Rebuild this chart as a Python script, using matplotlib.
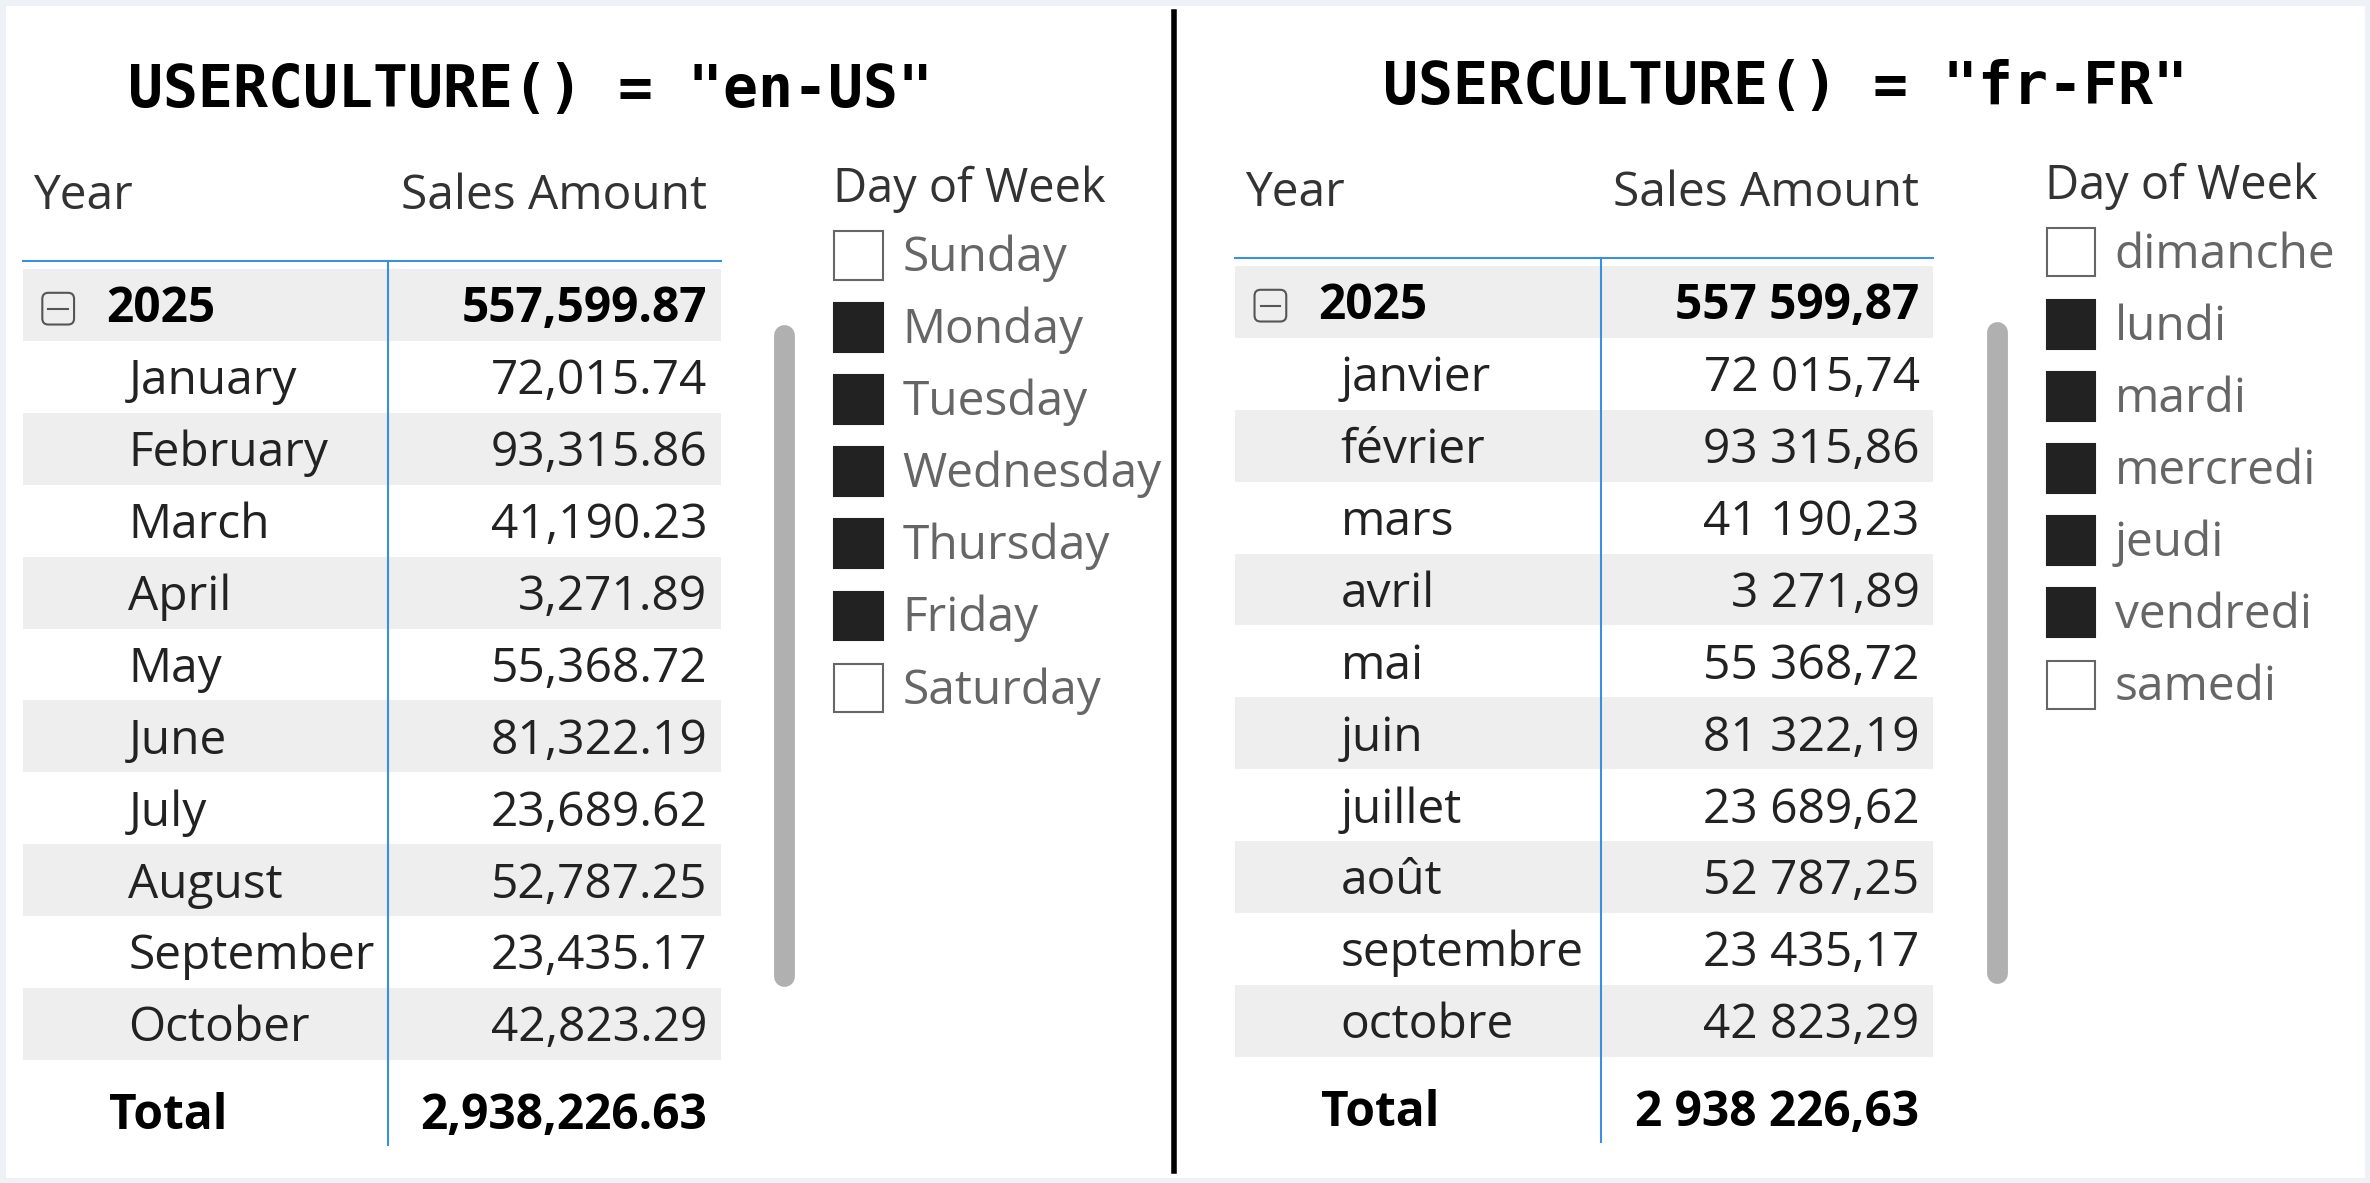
import matplotlib
matplotlib.use("Agg")
import matplotlib.pyplot as plt
from matplotlib.patches import Rectangle, FancyBboxPatch

months_en = ["January","February","March","April","May","June","July","August","September","October"]
months_fr = ["janvier","février","mars","avril","mai","juin","juillet","août","septembre","octobre"]
sales = [72015.74, 93315.86, 41190.23, 3271.89, 55368.72, 81322.19, 23689.62, 52787.25, 23435.17, 42823.29]
year_total = 557599.87
grand_total = 2938226.63
days_en = ["Sunday","Monday","Tuesday","Wednesday","Thursday","Friday","Saturday"]
days_fr = ["dimanche","lundi","mardi","mercredi","jeudi","vendredi","samedi"]
days_selected = [False, True, True, True, True, True, False]

W, H = 1568, 783
fig = plt.figure(figsize=(23.70, 11.83), dpi=100)
ax = fig.add_axes([0, 0, 1, 1])
ax.set_xlim(0, W); ax.set_ylim(H, 0); ax.axis("off")
S = 2370 / W * 72 / 100  # display px -> pt
FONT = ["Open Sans", "DejaVu Sans"]

def fmt_en(v): return f"{v:,.2f}"
def fmt_fr(v): return f"{v:,.2f}".replace(",", " ").replace(".", ",")

ax.add_patch(Rectangle((0, 0), W, H, fill=False, ec="#eef1f6", lw=8))

def panel(dx, dy, tx, title, months, fmt, days):
    ax.text(tx, 60 + dy, title, ha="center", va="center", family="DejaVu Sans Mono",
            fontweight="bold", fontsize=38.5 * S)
    fs = 31.7 * S
    L, R, C = 15 + dx, 477 + dx, 257 + dx
    ax.text(22 + dx, 130 + dy, "Year", va="center", fontsize=fs, family=FONT, color="#333")
    ax.text(468 + dx, 130 + dy, "Sales Amount", va="center", ha="right", fontsize=fs, family=FONT, color="#333")
    rh = 47.6
    y0 = 178 + dy
    rows = [None] + list(range(len(months)))
    for i, r in enumerate(rows):
        top = y0 + i * rh
        if i % 2 == 0:
            ax.add_patch(Rectangle((L, top), R - L, rh, color="#eeeeee", lw=0))
        yc = top + rh / 2 + 3
        if r is None:
            ax.add_patch(FancyBboxPatch((28 + dx, yc - 11), 21, 21, boxstyle="round,pad=0,rounding_size=4",
                                        fill=False, ec="#555", lw=1.5))
            ax.plot([32 + dx, 45 + dx], [yc - 0.5, yc - 0.5], color="#555", lw=1.5)
            ax.text(70 + dx, yc, "2025", va="center", fontsize=fs, fontweight="bold", family=FONT)
            ax.text(468 + dx, yc, fmt(year_total), va="center", ha="right", fontsize=fs, fontweight="bold", family=FONT)
        else:
            ax.text(85 + dx, yc, months[r], va="center", fontsize=fs, family=FONT, color="#222")
            ax.text(468 + dx, yc, fmt(sales[r]), va="center", ha="right", fontsize=fs, family=FONT, color="#222")
    ax.text(72 + dx, 739 + dy, "Total", va="center", fontsize=fs, fontweight="bold", family=FONT)
    ax.text(468 + dx, 739 + dy, fmt(grand_total), va="center", ha="right", fontsize=fs, fontweight="bold", family=FONT)
    ax.plot([L, R], [173 + dy, 173 + dy], color="#3a8fe0", lw=1.5)
    ax.plot([C, C], [173 + dy, 758 + dy], color="#3a8fe0", lw=1.5)
    ax.plot([519 + dx, 519 + dx], [222 + dy, 646 + dy], color="#b0b0b0", lw=10 * 1.5, solid_capstyle="round")
    ax.text(551 + dx, 125 + dy, "Day of Week", va="center", fontsize=31 * S, family=FONT, color="#333")
    for i, (d, sel) in enumerate(zip(days, days_selected)):
        yc = 169 + dy + i * 47.7
        ax.add_patch(Rectangle((552 + dx, yc - 16), 32, 32, fc="#222" if sel else "white",
                               ec="#222" if sel else "#666", lw=1.5))
        ax.text(597 + dx, yc + 2, d, va="center", fontsize=fs, family=FONT, color="#666")

panel(0, 0, 351, 'USERCULTURE() = "en-US"', months_en, fmt_en, days_en)
panel(802, -2, 1181, 'USERCULTURE() = "fr-FR"', months_fr, fmt_fr, days_fr)
ax.plot([777, 777], [8, 775], color="black", lw=4)

fig.savefig("out.png", dpi=100)
